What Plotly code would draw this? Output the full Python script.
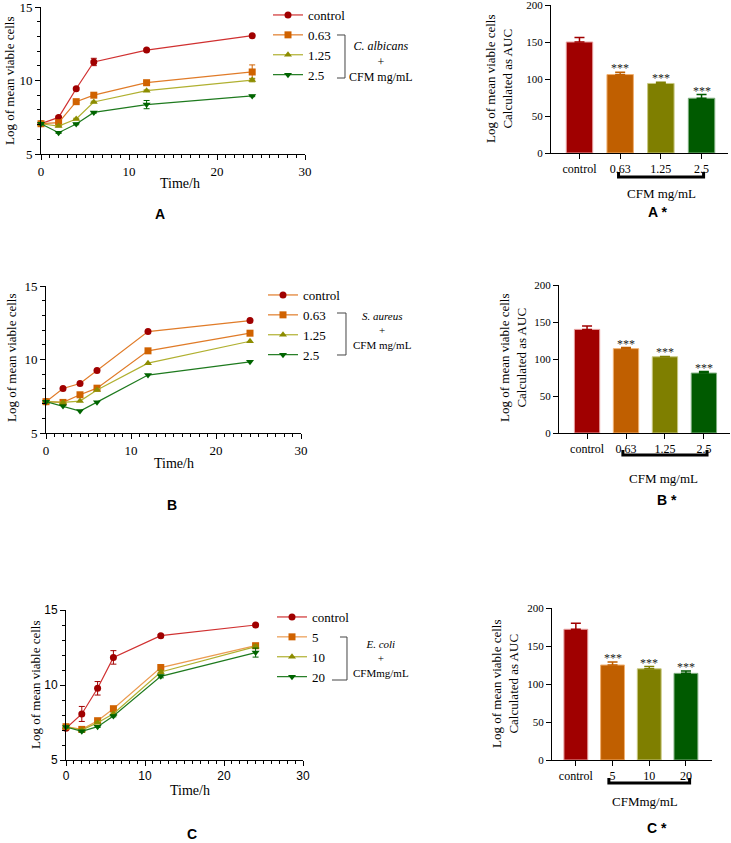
import plotly.graph_objects as go

W, H = 731, 843

# ---- data ----
time_h = [0, 2, 4, 6, 12, 24]

# A: C. albicans + CFM (mg/mL)
ca_dose = ['control', '0.63', '1.25', '2.5']
ca_control = [7.06, 7.49, 9.44, 11.26, 12.07, 13.05]
ca_063 = [7.06, 7.13, 8.56, 9.00, 9.85, 10.58]
ca_125 = [7.06, 6.90, 7.38, 8.54, 9.31, 10.03]
ca_25 = [7.06, 6.45, 7.04, 7.83, 8.36, 8.95]
ca_control_sd = [0.05, 0.08, 0.08, 0.25, 0.06, 0.05]
ca_063_sd = [0.05, 0.05, 0.08, 0.05, 0.08, 0.48]
ca_125_sd = [0.05, 0.05, 0.05, 0.05, 0.05, 0.12]
ca_25_sd = [0.05, 0.05, 0.05, 0.05, 0.28, 0.05]
ca_auc = [150, 106, 94, 74]
ca_auc_sd = [6, 3, 1.5, 5]

# B: S. aureus + CFM (mg/mL)
sa_dose = ['control', '0.63', '1.25', '2.5']
sa_control = [7.13, 8.03, 8.37, 9.25, 11.90, 12.65]
sa_063 = [7.13, 7.08, 7.60, 8.05, 10.59, 11.79]
sa_125 = [7.13, 7.08, 7.17, 7.92, 9.75, 11.24]
sa_25 = [7.13, 6.83, 6.49, 7.10, 8.94, 9.84]
sa_auc = [140, 114, 103, 81]
sa_auc_sd = [4.5, 1.5, 0.5, 2]

# C: E. coli + CFM (mg/mL)
ec_dose = ['control', '5', '10', '20']
ec_control = [7.11, 8.07, 9.78, 11.84, 13.29, 14.00]
ec_5 = [7.22, 7.04, 7.62, 8.42, 11.16, 12.62]
ec_10 = [7.20, 7.00, 7.49, 8.09, 10.87, 12.56]
ec_20 = [7.20, 6.91, 7.22, 7.93, 10.58, 12.16]
ec_control_sd = [0.05, 0.50, 0.45, 0.45, 0.08, 0.05]
ec_5_sd = [0.05, 0.05, 0.08, 0.08, 0.20, 0.15]
ec_10_sd = [0.05, 0.05, 0.05, 0.05, 0.10, 0.10]
ec_20_sd = [0.05, 0.05, 0.05, 0.05, 0.10, 0.30]
ec_auc = [172, 125, 120, 114]
ec_auc_sd = [8, 4, 3, 3]

symbols = ['circle', 'square', 'triangle-up', 'triangle-down']
marker_cols = ['#a00000', '#d06200', '#8c8c00', '#006400']
line_cols = ['#d03030', '#e07b28', '#b0b030', '#1e7a1e']
bar_cols = ['#a00000', '#c05f00', '#7f7f00', '#005a00']
bar_edge = ['#e8a0a0', '#f0b070', '#c8c880', '#80b080']

SERIF = 'Liberation Serif, Times New Roman, serif'
SANS = 'Liberation Sans, Arial, sans-serif'


def fx(p):
    return p / W


def fy(p):
    return 1 - p / H


fig = go.Figure()


def add_lines(series, errs, labels, ax, leg, lcols):
    for i, ys in enumerate(series):
        fig.add_trace(go.Scatter(
            x=time_h, y=ys, name=labels[i], mode='lines+markers',
            line=dict(color=lcols[i], width=1.2),
            marker=dict(symbol=symbols[i], size=7, color=marker_cols[i]),
            error_y=dict(type='data', array=errs[i], color=marker_cols[i],
                         thickness=1, width=3, visible=errs[i] is not None),
            xaxis='x' + ax, yaxis='y' + ax, legend=leg, cliponaxis=False))


def add_bars(vals, sds, cats, ax):
    for i in range(4):
        fig.add_trace(go.Bar(
            x=[cats[i]], y=[vals[i]], width=0.65, showlegend=False,
            marker=dict(color=bar_cols[i], line=dict(color=bar_edge[i], width=1)),
            error_y=dict(type='data', array=[sds[i]], arrayminus=[0], symmetric=False,
                         color=bar_cols[i], thickness=1.5, width=5),
            xaxis='x' + ax, yaxis='y' + ax))
        if i > 0:
            # category axis: place by index (string like '0.63' would be read as a number)
            fig.add_annotation(x=i, y=vals[i] + sds[i], xref='x' + ax, yref='y' + ax,
                               text='***', showarrow=False, yanchor='bottom', yshift=-5,
                               font=dict(family=SERIF, size=12, color='#222'))


add_lines([ca_control, ca_063, ca_125, ca_25],
          [ca_control_sd, ca_063_sd, ca_125_sd, ca_25_sd], ca_dose, '1', 'legend', line_cols)
add_bars(ca_auc, ca_auc_sd, ca_dose, '2')
add_lines([sa_control, sa_063, sa_125, sa_25], [None] * 4, sa_dose, '3', 'legend2',
          ['#e07b28', '#e07b28', '#b0b030', '#1e7a1e'])
add_bars(sa_auc, sa_auc_sd, sa_dose, '4')
add_lines([ec_control, ec_5, ec_10, ec_20],
          [ec_control_sd, ec_5_sd, ec_10_sd, ec_20_sd], ec_dose, '5', 'legend3',
          ['#d03030', '#eb9b50', '#b0b030', '#1e7a1e'])
add_bars(ec_auc, ec_auc_sd, ec_dose, '6')

axbase = dict(showline=True, linecolor='black', linewidth=1, showgrid=False, zeroline=False,
              ticks='outside', ticklen=5, tickcolor='black', tickwidth=1, automargin=False,
              ticklabeloverflow='allow')


def line_axes(n, x0, x1, ytop, ybot, font):
    fig.layout['xaxis' + n] = dict(axbase, domain=[fx(x0), fx(x1)], range=[0, 30], tick0=0, dtick=10,
                                   anchor='y' + n, tickfont=font,
                                   minor=dict(dtick=1, ticks='outside', ticklen=3, tickcolor='black'))
    fig.layout['yaxis' + n] = dict(axbase, domain=[fy(ybot), fy(ytop)], range=[5, 15], tick0=5, dtick=5,
                                   anchor='x' + n, tickfont=font,
                                   minor=dict(dtick=1, ticks='outside', ticklen=3, tickcolor='black'))


def bar_axes(n, x0, x1, ytop, ybot, xr):
    f = dict(family=SERIF, size=12, color='black')
    fig.layout['xaxis' + n] = dict(axbase, domain=[fx(x0), fx(x1)], range=xr, type='category',
                                   anchor='y' + n, tickfont=f)
    fig.layout['yaxis' + n] = dict(axbase, domain=[fy(ybot), fy(ytop)], range=[0, 200], dtick=50,
                                   anchor='x' + n, tickfont=dict(family=SERIF, size=11, color='black'))


tf_serif = dict(family=SERIF, size=13, color='black')
tf_sans = dict(family=SANS, size=12, color='black')
line_axes('1', 41, 305, 7, 154, tf_serif)
bar_axes('2', 551, 728, 5, 153, [-0.7, 3.65])
line_axes('3', 46, 301, 286, 433, tf_serif)
bar_axes('4', 559, 730, 285, 433, [-0.72, 3.67])
line_axes('5', 66, 303, 610, 760, tf_sans)
bar_axes('6', 552, 712, 608, 760, [-0.65, 3.71])


def txt(x, y, s, size=13, family=SERIF, angle=0, bold=False):
    fig.add_annotation(x=fx(x), y=fy(y), xref='paper', yref='paper', text=('<b>%s</b>' % s) if bold else s,
                       showarrow=False, textangle=angle, xanchor='center', yanchor='middle',
                       font=dict(family=family, size=size, color='black'))


# axis titles
txt(180, 184, 'Time/h', 14)
txt(174, 463, 'Time/h', 14)
txt(190, 790, 'Time/h', 14)
txt(9, 81, 'Log of mean viable cells', 13, angle=-90)
txt(12, 358, 'Log of mean viable cells', 13, angle=-90)
txt(35, 685, 'Log of mean viable cells', 13, angle=-90)
for cx, cy in [(499, 79), (513, 358), (505, 684)]:
    txt(cx, cy, 'Log of mean viable cells<br>Calculated as AUC', 13, angle=-90)

# panel labels
for s, x, y in [('A', 160, 214), ('A *', 657, 212), ('B', 172, 505), ('B *', 667, 500),
                ('C', 192, 834), ('C *', 657, 828)]:
    txt(x, y, s, 14, SANS, bold=True)

# CFM brackets under the bar charts
for ax, a, b, ytop, ybot, label, lx, ly in [('2', 0.96, 3.05, 172, 177, 'CFM mg/mL', 661, 193),
                                            ('4', 0.92, 3.08, 450, 455, 'CFM mg/mL', 663, 479),
                                            ('6', 0.90, 3.10, 778, 783, 'CFMmg/mL', 645, 801)]:
    fig.add_shape(type='path', xref='x' + ax, yref='paper',
                  path='M %f,%f L %f,%f L %f,%f L %f,%f' % (a, fy(ytop), a, fy(ybot), b, fy(ybot), b, fy(ytop)),
                  line=dict(color='black', width=3))
    txt(lx, ly, label, 13)

# legend brackets with species text
for vx, top, bot, tl, bl in [(345, 35, 78, 337, 337), (346, 313, 355, 337, 337), (347, 637, 680, 340, 332)]:
    fig.add_shape(type='path', xref='paper', yref='paper',
                  path='M %f,%f L %f,%f L %f,%f L %f,%f' % (fx(tl), fy(top), fx(vx), fy(top),
                                                            fx(vx), fy(bot), fx(bl), fy(bot)),
                  line=dict(color='#444', width=1))
txt(381, 62, '<i>C. albicans</i><br>+<br>CFM mg/mL', 12)
txt(383, 330, '<i>S. aureus</i><br>+<br>CFM mg/mL', 11)
txt(381, 658, '<i>E. coli</i><br>+<br>CFMmg/mL', 11)

legbase = dict(xanchor='left', yanchor='top', bgcolor='rgba(0,0,0,0)', borderwidth=0,
               font=dict(family=SERIF, size=13, color='black'), tracegroupgap=0, itemwidth=30)
fig.update_layout(
    width=W, height=H, margin=dict(l=0, r=0, t=0, b=0, autoexpand=False),
    paper_bgcolor='white', plot_bgcolor='white', barmode='overlay',
    legend=dict(legbase, x=fx(268), y=fy(0)),
    legend2=dict(legbase, x=fx(263), y=fy(280)),
    legend3=dict(legbase, x=fx(272), y=fy(602)),
)

# drop the browser's default 8px body margin so the figure sits at the page corner
fig.write_html("out.html", config={'displayModeBar': False},
               post_script="document.body.style.margin='0';")
